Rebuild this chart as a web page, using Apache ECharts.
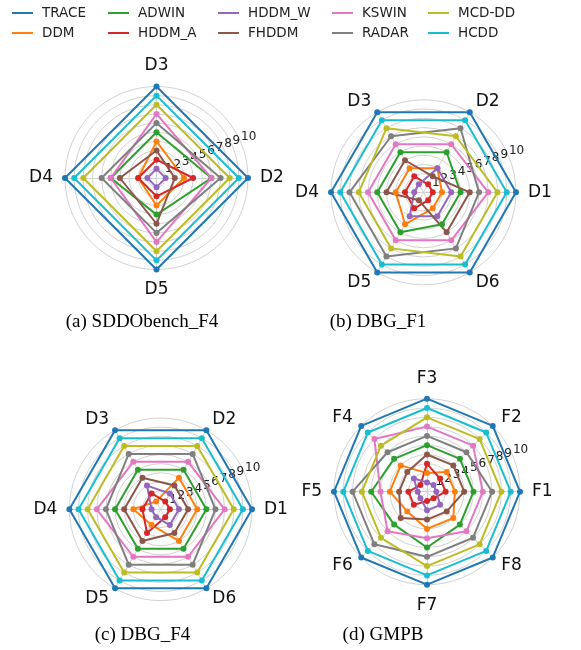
<!DOCTYPE html>
<html>
<head>
<meta charset="utf-8">
<script src="https://cdn.jsdelivr.net/npm/echarts@6/dist/echarts.min.js"></script>
<style>
html, body { margin: 0; padding: 0; background: #fff; }
#chart { width: 581px; height: 650px; }
</style>
</head>
<body>
<div id="chart"></div>
<script>
// Detector names and their colours (tab10 order)
const methods = ['TRACE', 'DDM', 'ADWIN', 'HDDM_A', 'HDDM_W', 'FHDDM', 'KSWIN', 'RADAR', 'MCD-DD', 'HCDD'];
const palette = ['#1f77b4', '#ff7f0e', '#2ca02c', '#d62728', '#9467bd', '#8c564b', '#e377c2', '#7f7f7f', '#bcbd22', '#17becf'];
const radialTicks = [1, 2, 3, 4, 5, 6, 7, 8, 9, 10];

// (a) SDDObench_F4 — rows follow `methods`
const axesSDDO = ['D2', 'D3', 'D4', 'D5'];
const ranksSDDO = [
  [10, 10, 10, 10],
  [3, 4, 2, 3],
  [6, 5, 5, 4],
  [4, 2, 2, 2],
  [1, 1, 1, 1],
  [2, 3, 4, 5],
  [6, 7, 5, 7],
  [7, 6, 6, 6],
  [8, 8, 8, 8],
  [9, 9, 9, 9]
];

// (b) DBG_F1
const axesDBG1 = ['D1', 'D2', 'D3', 'D4', 'D5', 'D6'];
const ranksDBG1 = [
  [10, 10, 10, 10, 10, 10],
  [2, 3, 3, 3, 4, 2],
  [4, 5, 5, 5, 5, 4],
  [1, 1, 2, 2, 2, 1],
  [3, 3, 1, 1, 3, 3],
  [5, 2, 4, 4, 1, 5],
  [7, 6, 6, 6, 6, 6],
  [6, 8, 7, 8, 8, 7],
  [8, 7, 8, 7, 7, 8],
  [9, 9, 9, 9, 9, 9]
];

// (c) DBG_F4
const axesDBG4 = ['D1', 'D2', 'D3', 'D4', 'D5', 'D6'];
const ranksDBG4 = [
  [10, 10, 10, 10, 10, 10],
  [4, 4, 1, 3, 2, 4],
  [5, 5, 5, 5, 5, 5],
  [1, 1, 2, 2, 3, 1],
  [2, 2, 3, 1, 1, 2],
  [3, 3, 4, 4, 4, 3],
  [7, 6, 6, 7, 6, 6],
  [6, 7, 7, 6, 7, 7],
  [8, 8, 8, 8, 8, 8],
  [9, 9, 9, 9, 9, 9]
];

// (d) GMPB
const axesGMPB = ['F1', 'F2', 'F3', 'F4', 'F5', 'F6', 'F7', 'F8'];
const ranksGMPB = [
  [10, 10, 10, 10, 10, 10, 10, 10],
  [3, 3, 2, 4, 4, 3, 4, 4],
  [5, 5, 5, 5, 6, 5, 6, 5],
  [2, 2, 3, 1, 2, 2, 1, 1],
  [1, 1, 1, 2, 1, 1, 2, 2],
  [4, 4, 4, 3, 3, 4, 3, 3],
  [6, 7, 7, 8, 5, 6, 5, 6],
  [7, 6, 6, 6, 8, 8, 7, 7],
  [8, 8, 8, 7, 7, 7, 8, 8],
  [9, 9, 9, 9, 9, 9, 9, 9]
];

const captions = ['(a) SDDObench_F4', '(b) DBG_F1', '(c) DBG_F4', '(d) GMPB'];

// Panel layout
const panels = [
  { axes: axesSDDO, ranks: ranksSDDO, center: [156.5, 178], radius: 91.5, cap: [142, 322] },
  { axes: axesDBG1, ranks: ranksDBG1, center: [423.5, 192.3], radius: 92.5, cap: [378, 322] },
  { axes: axesDBG4, ranks: ranksDBG4, center: [160.7, 509.3], radius: 91.3, cap: [142.5, 635] },
  { axes: axesGMPB, ranks: ranksGMPB, center: [427, 491.7], radius: 93, cap: [383, 635] }
];

const gridColor = '#d2d2d2';
const sans = 'DejaVu Sans';

const radar = panels.map(p => ({
  center: p.center,
  radius: p.radius,
  startAngle: 0,
  shape: 'circle',
  splitNumber: 10,
  indicator: p.axes.map(n => ({ name: n, min: 0, max: 10 })),
  axisName: { color: '#111', fontSize: 17, fontFamily: sans },
  nameGap: 12,
  splitLine: { lineStyle: { color: gridColor, width: 1 } },
  splitArea: { show: false },
  axisLine: { lineStyle: { color: gridColor, width: 1 } },
  axisTick: { show: false },
  axisLabel: { show: false }
}));

// Polar systems used only to print the radial tick labels along 22.5°
const polar = panels.map(p => ({ center: p.center, radius: p.radius }));
const angleAxis = panels.map((p, i) => ({
  polarIndex: i, type: 'value', min: 0, max: 360, startAngle: 22.5, show: false
}));
const radiusAxis = panels.map((p, i) => ({
  polarIndex: i, type: 'value', min: 0, max: radialTicks[radialTicks.length - 1], interval: 1,
  axisLine: { show: false }, axisTick: { show: false }, splitLine: { show: false },
  axisLabel: {
    showMinLabel: false, showMaxLabel: true, hideOverlap: false,
    fontSize: 12, color: '#222', fontFamily: sans, margin: 0,
    align: 'left', verticalAlign: 'bottom',
    formatter: v => radialTicks.indexOf(v) >= 0 ? String(v) : ''
  }
}));

const series = panels.map((p, i) => ({
  type: 'radar',
  radarIndex: i,
  symbol: 'circle',
  symbolSize: 6,
  silent: true,
  data: methods.map((m, k) => ({
    name: m,
    value: p.ranks[k],
    lineStyle: { color: palette[k], width: 2 },
    itemStyle: { color: palette[k] }
  }))
}));

// Legend: five columns of two entries
const legendCols = [[0, 1], [2, 3], [4, 5], [6, 7], [8, 9]];
const legendX = [12, 108, 218, 332, 428];
const legend = legendCols.map((col, c) => ({
  data: col.map(k => ({ name: methods[k], itemStyle: { color: palette[k] } })),
  orient: 'vertical',
  left: legendX[c],
  top: 6,
  padding: 0,
  itemWidth: 21,
  itemHeight: 2,
  icon: 'rect',
  itemGap: 6,
  selectedMode: false,
  textStyle: { fontSize: 13.5, fontFamily: sans, color: '#222', padding: [0, 0, 0, 4] }
}));

const graphic = panels.map((p, i) => ({
  type: 'text',
  x: p.cap[0],
  y: p.cap[1],
  style: {
    text: captions[i],
    font: '19px "Liberation Serif"',
    fill: '#000',
    align: 'center', verticalAlign: 'middle',
    textAlign: 'center', textVerticalAlign: 'middle'
  }
}));

const chart = echarts.init(document.getElementById('chart'), null, { renderer: 'canvas' });
chart.setOption({
  animation: false,
  backgroundColor: '#fff',
  legend, radar, polar, angleAxis, radiusAxis, series, graphic
});
</script>
</body>
</html>
